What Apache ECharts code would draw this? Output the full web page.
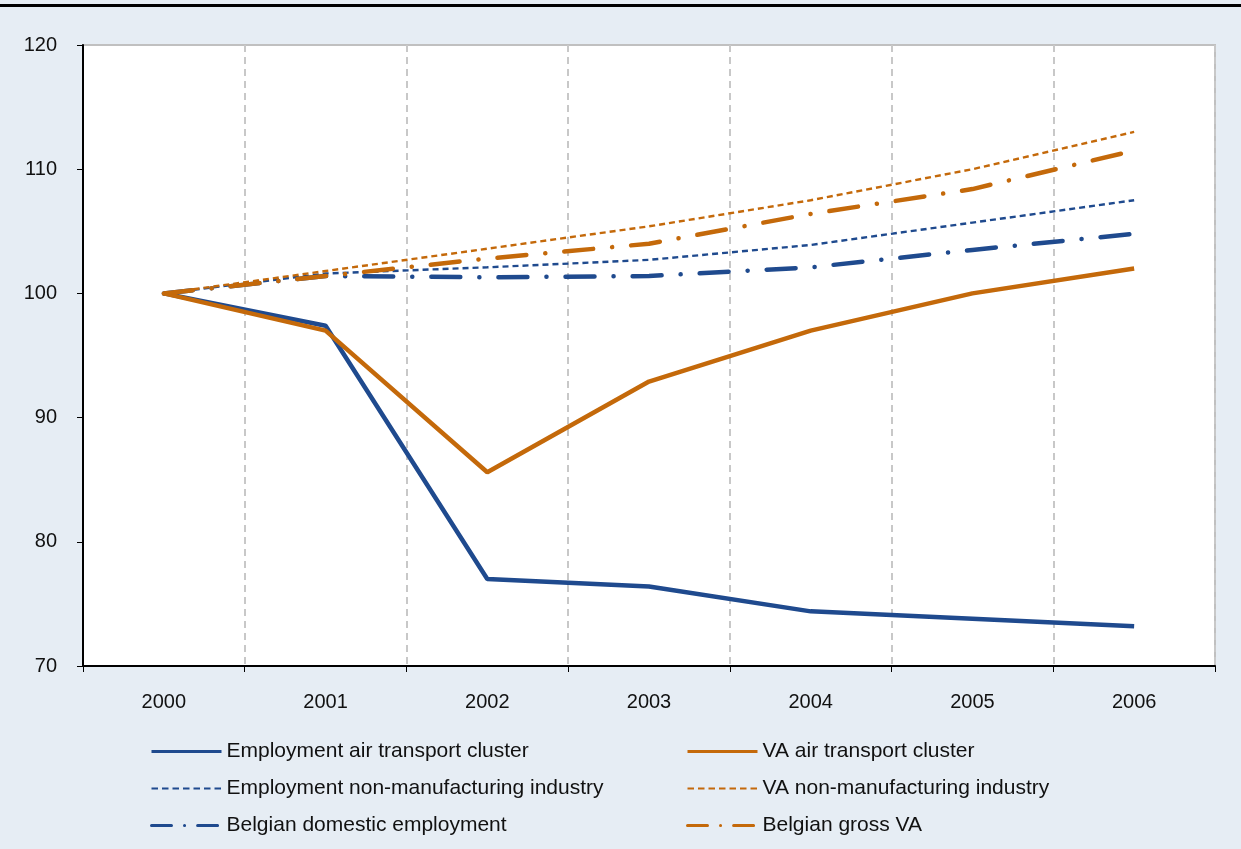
<!DOCTYPE html>
<html>
<head>
<meta charset="utf-8">
<script src="https://cdn.jsdelivr.net/npm/echarts@6/dist/echarts.min.js"></script>
<style>
  html, body { margin: 0; padding: 0; background: #e6edf4; }
  #chart { width: 1241px; height: 849px; }
</style>
</head>
<body>
<div id="chart"></div>
<script>
// 数据
const years = ['2000', '2001', '2002', '2003', '2004', '2005', '2006'];
const empAirTransport = [100, 97.4, 77.0, 76.4, 74.4, 73.8, 73.2];
const empNonManufacturing = [100, 101.6, 102.1, 102.7, 103.9, 105.7, 107.5];
const empBelgianDomestic = [100, 101.4, 101.3, 101.4, 102.1, 103.5, 104.8];
const vaAirTransport = [100, 97.0, 85.6, 92.9, 97.0, 100.0, 102.0];
const vaNonManufacturing = [100, 101.8, 103.6, 105.4, 107.5, 110.0, 113.0];
const vaBelgianGross = [100, 101.4, 102.8, 104.0, 106.4, 108.4, 111.5];

const leftNames = ['Employment air transport cluster', 'Employment non-manufacturing industry', 'Belgian domestic employment'];
const rightNames = ['VA air transport cluster', 'VA non-manufacturing industry', 'Belgian gross VA'];

const BLUE = '#1f4a8e';
const ORANGE = '#c4690a';
const KINDS = ['solid', 'dashed', 'dashdot'];
const FONT = 'Arial, "Liberation Sans", sans-serif';

// 线型
function styleFor(color, kind) {
  if (kind === 'solid') return { color: color, width: 4.5, type: 'solid' };
  if (kind === 'dashed') return { color: color, width: 2.4, type: [6, 4] };
  return { color: color, width: 4.5, type: [29, 19, 0.1, 19], cap: 'round' };
}

// 图例里的线更细
function legendStyleFor(color, kind) {
  if (kind === 'solid') return { color: color, width: 3, type: 'solid' };
  if (kind === 'dashed') return { color: color, width: 2.2, type: [6.5, 4] };
  return { color: color, width: 3, type: [20, 13, 0.1, 13], cap: 'round' };
}

function lineSeries(name, data, color, kind) {
  return {
    name: name,
    type: 'line',
    data: data,
    symbol: 'none',
    itemStyle: { color: color },
    lineStyle: styleFor(color, kind),
    animation: false
  };
}

function legendBlock(left, names, color) {
  return {
    orient: 'vertical',
    left: left, top: 736,
    itemWidth: 70, itemHeight: 14, itemGap: 16,
    itemStyle: { opacity: 0 },
    textStyle: { fontSize: 21, color: '#111', fontFamily: FONT },
    data: names.map((n, i) => ({
      name: n,
      lineStyle: legendStyleFor(color, KINDS[i]),
      itemStyle: { opacity: 0 }
    }))
  };
}

const chart = echarts.init(document.getElementById('chart'));
chart.setOption({
  backgroundColor: '#e6edf4',
  textStyle: { fontFamily: FONT },
  graphic: [{
    type: 'rect',
    shape: { x: 0, y: 4, width: 1241, height: 3 },
    style: { fill: '#000' }
  }],
  grid: {
    left: 83, right: 26, top: 45, bottom: 183,
    show: true,
    backgroundColor: '#fff',
    borderColor: '#c0c0c0',
    borderWidth: 2
  },
  legend: [
    legendBlock(145, leftNames, BLUE),
    legendBlock(681, rightNames, ORANGE)
  ],
  xAxis: {
    type: 'category',
    data: years,
    boundaryGap: true,
    axisLine: { lineStyle: { color: '#000', width: 2 } },
    axisTick: { show: true, length: 6, lineStyle: { color: '#000' } },
    axisLabel: { fontSize: 20, color: '#111', margin: 26 },
    splitLine: { show: true, lineStyle: { color: '#c8c8c8', width: 2, type: [7, 5] } }
  },
  yAxis: {
    type: 'value',
    min: 70, max: 120, interval: 10,
    axisLine: { show: true, lineStyle: { color: '#000', width: 2 } },
    axisTick: { show: true, length: 6, lineStyle: { color: '#000' } },
    axisLabel: { fontSize: 20, color: '#111', margin: 26 },
    splitLine: { show: false }
  },
  series: [
    lineSeries(leftNames[0], empAirTransport, BLUE, 'solid'),
    lineSeries(leftNames[1], empNonManufacturing, BLUE, 'dashed'),
    lineSeries(leftNames[2], empBelgianDomestic, BLUE, 'dashdot'),
    lineSeries(rightNames[0], vaAirTransport, ORANGE, 'solid'),
    lineSeries(rightNames[1], vaNonManufacturing, ORANGE, 'dashed'),
    lineSeries(rightNames[2], vaBelgianGross, ORANGE, 'dashdot')
  ]
});
</script>
</body>
</html>
